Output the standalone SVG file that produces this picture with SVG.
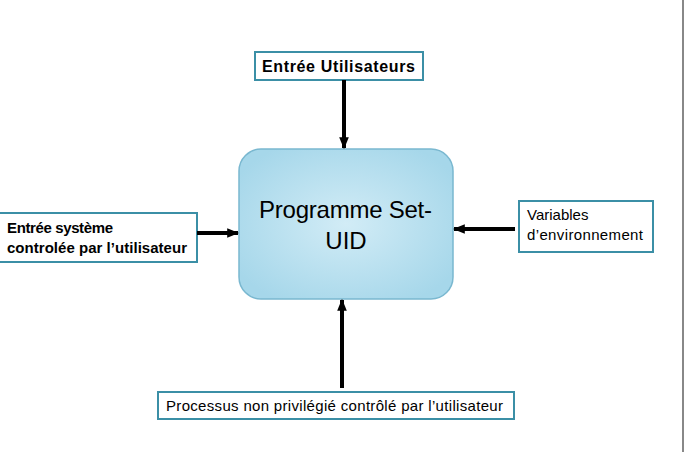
<svg xmlns="http://www.w3.org/2000/svg" width="685" height="452" viewBox="0 0 685 452">
<defs>
<radialGradient id="g" cx="50%" cy="50%" r="60%">
<stop offset="0" stop-color="#d2ecf6"/>
<stop offset="1" stop-color="#a6d7ea"/>
</radialGradient>
<marker id="ah" viewBox="0 0 10 10" refX="9" refY="5" markerWidth="3" markerHeight="3" orient="auto" markerUnits="strokeWidth">
<path d="M0,1 L10,5 L0,9 z" fill="#000"/>
</marker>
</defs>
<style>
.box{fill:#fff;stroke:#3b8fa6;stroke-width:2}
.t{font-family:"Liberation Sans",Arial,sans-serif;font-size:15px;fill:#000}
.b{font-weight:bold}
.c{stroke:#000;stroke-width:4;fill:none;marker-end:url(#ah)}
</style>
<rect width="685" height="452" fill="#fff"/>
<line x1="683" y1="0" x2="683" y2="452" stroke="#888" stroke-width="2"/>
<g id="main">
<rect x="239" y="149" width="214" height="150" rx="22" fill="url(#g)" stroke="#7ab8d0" stroke-width="1.5"/>
<text class="t" x="345.5" y="218" text-anchor="middle" style="font-size:24px" textLength="173">Programme Set-</text>
<text class="t" x="346" y="249" text-anchor="middle" style="font-size:24px">UID</text>
</g>
<g id="top">
<rect class="box" x="255" y="52" width="168" height="28"/>
<text class="t b" x="262" y="72" style="font-size:16px" textLength="153">Entrée Utilisateurs</text>
</g>
<g id="left">
<rect class="box" x="-2" y="213" width="199" height="49"/>
<text class="t b" x="7" y="233" textLength="106">Entrée système</text>
<text class="t b" x="7" y="253" textLength="180">controlée par l’utilisateur</text>
</g>
<g id="right">
<rect class="box" x="519" y="201" width="134" height="51"/>
<text class="t" x="527" y="220">Variables</text>
<text class="t" x="527" y="240" textLength="116">d’environnement</text>
</g>
<g id="bottom">
<rect class="box" x="158" y="392" width="356" height="27"/>
<text class="t" x="166" y="411" textLength="337">Processus non privilégié contrôlé par l’utilisateur</text>
</g>
<g id="connectors">
<line class="c" x1="344" y1="80" x2="344" y2="148"/>
<line class="c" x1="197" y1="233" x2="238" y2="233"/>
<line class="c" x1="515" y1="229" x2="454" y2="229"/>
<line class="c" x1="342" y1="388" x2="342" y2="300"/>
</g>
</svg>
